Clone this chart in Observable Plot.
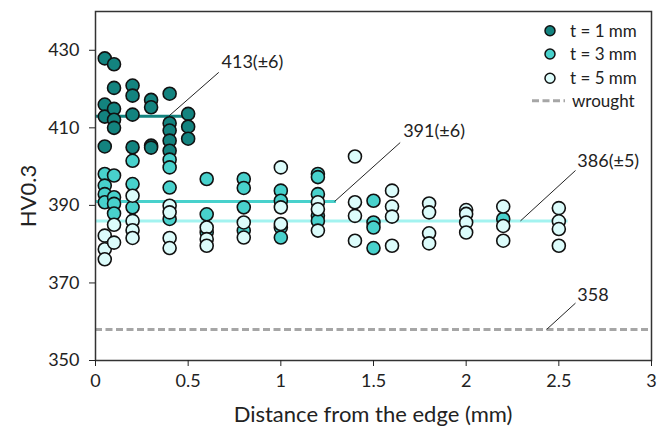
<!DOCTYPE html>
<html><head><meta charset="utf-8">
<script src="https://cdn.jsdelivr.net/npm/d3@7"></script>
<script src="https://cdn.jsdelivr.net/npm/@observablehq/plot@0.6"></script>
<style>
body{margin:0;background:#fff;}
#wrap{position:relative;width:670px;height:437px;font-family:Lato,"Open Sans",sans-serif;color:#222;}
.ttl{position:absolute;font-size:22px;white-space:nowrap;}
</style></head><body><div id="wrap"></div>
<script>
const seriesNames = ["t = 1 mm", "t = 3 mm", "t = 5 mm"];
const seriesColors = ["#13837f", "#48d1cc", "#dcfcfb"];

const distances1 = [0.05, 0.1, 0.2, 0.3, 0.4, 0.5];
const hv1 = [[427.9,416.0,412.9,405.2],[426.4,420.3,414.9,412.1,410.0],[420.9,418.3,413.4,405.0],[417.2,415.3,405.4,404.9],[418.8,411.2,409.3,406.7,404.1],[413.6,410.3,407.2]];

const distances3 = [0.05, 0.1, 0.2, 0.4, 0.6, 0.8, 1.0, 1.2, 1.5, 2.2];
const hv3 = [[398.1,395.1,392.9,390.8],[397.7,392.1,390.4,387.9],[401.5,395.5,389.5],[401.8,399.8,394.6,386.5],[396.8,387.7,383.0],[396.8,394.5,389.5,383.5],[393.8,391.2,384.3,381.7],[398.1,397.3,392.9,387.3,386.0],[391.2,385.6,384.3,379.0],[386.5]];

const distances5 = [0.05, 0.1, 0.2, 0.4, 0.6, 0.8, 1.0, 1.2, 1.4, 1.6, 1.8, 2.0, 2.2, 2.5];
const hv5 = [[382.2,378.7,376.1],[385.0,380.4],[392.5,386.0,383.6,381.6],[389.9,388.2,381.6,379.0],[384.3,381.3,379.6],[385.6,381.7],[399.8,389.5,385.2],[390.8,389.0,383.5],[402.6,390.8,387.3,380.9],[393.8,389.7,387.1,379.6],[390.5,388.2,382.8,380.2],[388.8,387.8,385.6,383.0],[389.7,384.7,380.9],[389.3,385.9,383.9,379.6]];

const xTicks = [0, 0.5, 1, 1.5, 2, 2.5, 3];
const yTicks = [350, 370, 390, 410, 430];

// mean levels and annotations
const meanLabels = ["413(±6)", "391(±6)", "386(±5)", "358"];
const meanValues = [413, 391, 386, 358];
const meanFrom = [0, 0, 0, 0];
const meanTo = [0.5, 1.3, 2.55, 3];
const meanColors = ["#13837f", "#48d1cc", "#a3f3f0", "#a6a6a6"];
const leaderX1 = [0.395, 1.29, 2.293, 2.434];
const leaderX2 = [0.665, 1.644, 2.59, 2.59];
const leaderY2 = [424.3, 406.2, 399.0, 364.8];
const labelX = [0.68, 1.66, 2.60, 2.60];
const labelY = [426.9, 409.0, 401.5, 366.9];

const points = [];
[[distances1, hv1, 0], [distances3, hv3, 1], [distances5, hv5, 2]].forEach(([ds, hs, s]) => {
  ds.forEach((d, i) => hs[i].forEach(v => points.push({x: d, y: v, s: seriesNames[s]})));
});
const means = meanLabels.map((l, i) => ({label: l, v: meanValues[i], x1: meanFrom[i], x2: meanTo[i], c: meanColors[i],
  lx1: leaderX1[i], lx2: leaderX2[i], ly2: leaderY2[i], tx: labelX[i], ty: labelY[i]}));

const chart = Plot.plot({
  width: 670, height: 437,
  marginLeft: 95, marginRight: 19, marginTop: 11, marginBottom: 77,
  style: {fontFamily: "Lato, 'Open Sans', sans-serif", fontSize: "18px", color: "#222", background: "#fff"},
  x: {domain: [0, 3]},
  y: {domain: [350, 440]},
  color: {domain: seriesNames, range: seriesColors},
  marks: [
    Plot.ruleY(means.slice(0, 3), {y: "v", x1: "x1", x2: "x2", stroke: "c", strokeWidth: 3}),
    Plot.ruleY(means.slice(3), {y: "v", x1: "x1", x2: "x2", stroke: "c", strokeWidth: 3, strokeDasharray: "7,3.5"}),
    Plot.dot(points, {x: "x", y: "y", fill: "s", r: 6.5, stroke: "#111", strokeWidth: 1.6}),
    Plot.link(means, {x1: "lx1", y1: "v", x2: "lx2", y2: "ly2", stroke: "#222", strokeWidth: 1}),
    Plot.text(means, {x: "tx", y: "ty", text: "label", textAnchor: "start", fontSize: 18, fill: "#222"}),
    Plot.frame({stroke: "#333", strokeWidth: 1.5}),
    Plot.axisX({ticks: xTicks, tickFormat: d => String(d), tickSize: 6, tickPadding: 8, label: null}),
    Plot.axisY({ticks: yTicks, tickFormat: d => String(d), tickSize: 6, tickPadding: 10, label: null})
  ]
});

const wrap = document.getElementById("wrap");
wrap.appendChild(chart);

// legend inside the frame (top right)
const svg = d3.select(chart);
const lg = svg.append("g").attr("font-family", "Lato, 'Open Sans', sans-serif").attr("font-size", 17)
  .attr("fill", "#222").attr("text-anchor", "start");
const rowY = [30.7, 54, 78.3, 100.7];
seriesNames.forEach((n, i) => {
  lg.append("circle").attr("cx", 550).attr("cy", rowY[i]).attr("r", 5).attr("fill", seriesColors[i]).attr("stroke", "#111").attr("stroke-width", 1.5);
  lg.append("text").attr("x", 570).attr("y", rowY[i]).attr("dy", "0.35em").text(n);
});
lg.append("line").attr("x1", 532).attr("x2", 565).attr("y1", rowY[3]).attr("y2", rowY[3]).attr("stroke", "#a6a6a6").attr("stroke-width", 3).attr("stroke-dasharray", "7,3.5");
lg.append("text").attr("x", 572).attr("y", rowY[3]).attr("dy", "0.35em").text("wrought");

// axis titles
const yt = document.createElement("div");
yt.className = "ttl"; yt.textContent = "HV0.3";
yt.style.left = "27px"; yt.style.top = "196px"; yt.style.transform = "translate(-50%,-50%) rotate(-90deg)";
wrap.appendChild(yt);
const xt = document.createElement("div");
xt.className = "ttl"; xt.textContent = "Distance from the edge (mm)";
xt.style.left = "373px"; xt.style.top = "413px"; xt.style.transform = "translate(-50%,-50%)";
wrap.appendChild(xt);
</script>
</body></html>
